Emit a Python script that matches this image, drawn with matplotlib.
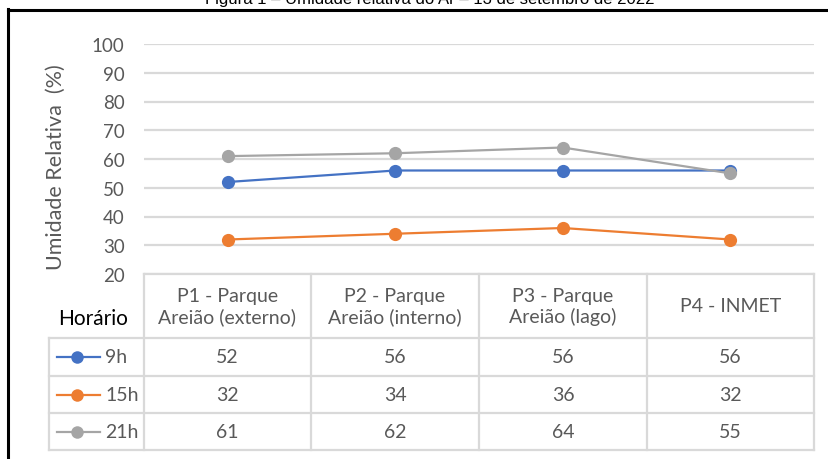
import matplotlib
matplotlib.use("Agg")
import matplotlib.pyplot as plt
from matplotlib.lines import Line2D

# ---- data ----
categories = ["P1 - Parque\nAreião (externo)", "P2 - Parque\nAreião (interno)",
              "P3 - Parque\nAreião (lago)", "P4 - INMET"]
series_names = ["9h", "15h", "21h"]
values_9h = [52, 56, 56, 56]
values_15h = [32, 34, 36, 32]
values_21h = [61, 62, 64, 55]
series_values = [values_9h, values_15h, values_21h]
series_colors = ["#4472C4", "#ED7D31", "#A5A5A5"]
yticks = [20, 30, 40, 50, 60, 70, 80, 90, 100]
title = "Figura 1 – Umidade relativa do Ar – 13 de setembro de 2022"
ylabel = "Umidade Relativa  (%)"
row_header = "Horário"

W, H = 829, 460
plt.rcParams['font.family'] = ['Lato', 'DejaVu Sans']
fig = plt.figure(figsize=(W / 100, H / 100), dpi=100)

def fx(x):
    return x / W

def fy(y):
    return 1 - y / H

TXT = "#595959"
GRID = "#d9d9d9"

# plot axes
x0, x1, ytop, ybot = 144, 814, 45, 275
ax = fig.add_axes([fx(x0), fy(ybot), fx(x1) - fx(x0), fy(ytop) - fy(ybot)])
ax.set_xlim(-0.5, len(categories) - 0.5)
ax.set_ylim(yticks[0], yticks[-1])
ax.set_yticks(yticks)
ax.set_xticks([])
for s in ax.spines.values():
    s.set_visible(False)
ax.tick_params(axis='y', length=0, pad=14, labelsize=13.5, labelcolor=TXT)
ax.yaxis.grid(True, color=GRID, lw=1.6)
ax.set_axisbelow(True)

xs = list(range(len(categories)))
for vals, col in zip(series_values, series_colors):
    ax.plot(xs, vals, color=col, lw=1.6, marker='o', ms=9.5, mec=col, mew=0,
            clip_on=False, zorder=3)

fig.text(fx(56), fy(167), ylabel, rotation=90, ha='center', va='center',
         color=TXT, fontsize=15.5)

# ---- table ----
col_edges = [144, 311, 479, 647, 814]
row_edges = [339, 377, 414, 451]
lines = []
lines.append(((144, 814), (275, 275)))
for y in row_edges:
    lines.append(((49, 814), (y, y)))
lines.append(((49, 49), (339, 451)))
for x in col_edges:
    lines.append(((x, x), (275, 451)))
for (xa, xb), (ya, yb) in lines:
    fig.add_artist(Line2D([fx(xa), fx(xb)], [fy(ya), fy(yb)], color=GRID,
                          lw=1.6, transform=fig.transFigure))

centers = [(col_edges[i] + col_edges[i + 1]) / 2 for i in range(len(categories))]
for cx, cat in zip(centers, categories):
    fig.text(fx(cx), fy(307), cat, ha='center', va='center', color=TXT,
             fontsize=14, linespacing=1.25)

fig.text(fx(93), fy(319), row_header, ha='center', va='center', color='black',
         fontsize=15)

for r, (name, vals, col) in enumerate(zip(series_names, series_values, series_colors)):
    cy = (row_edges[r] + row_edges[r + 1]) / 2
    fig.add_artist(Line2D([fx(57), fx(100)], [fy(cy), fy(cy)], color=col, lw=1.6,
                          transform=fig.transFigure))
    fig.add_artist(Line2D([fx(77)], [fy(cy)], color=col, marker='o', ms=9,
                          mew=0, transform=fig.transFigure))
    fig.text(fx(105), fy(cy), name, ha='left', va='center', color=TXT, fontsize=14)
    for cx, v in zip(centers, vals):
        fig.text(fx(cx), fy(cy), str(v), ha='center', va='center', color=TXT,
                 fontsize=14)

# outer frame and cut-off caption
fig.add_artist(Line2D([fx(8), fx(829)], [fy(10.5), fy(10.5)], color='black', lw=2.2,
                      transform=fig.transFigure))
fig.add_artist(Line2D([fx(8.5), fx(8.5)], [fy(10), fy(460)], color='black', lw=2.2,
                      transform=fig.transFigure))
fig.text(fx(430), fy(4), title, ha='center', va='baseline', color='black',
         fontsize=12, family=['Liberation Sans', 'DejaVu Sans'])

fig.savefig("out.png", dpi=100)
